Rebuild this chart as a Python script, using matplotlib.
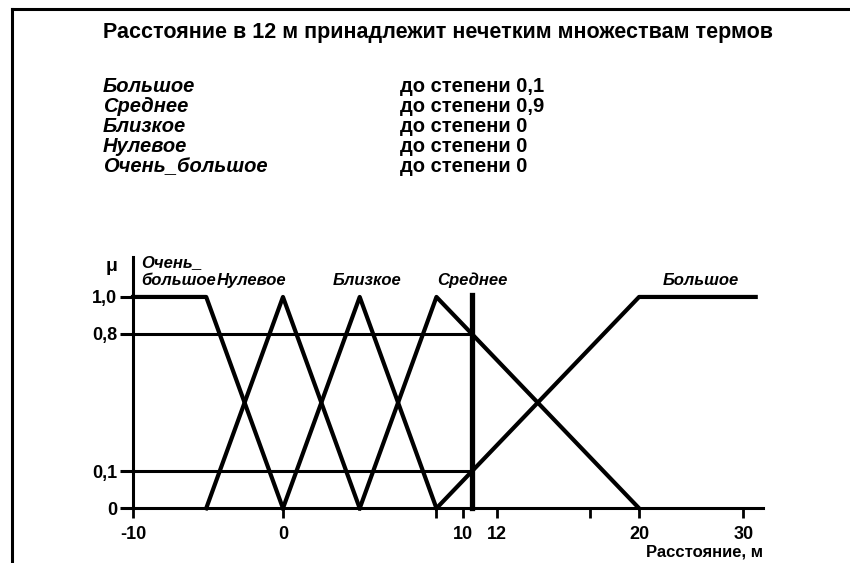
import numpy as np
import matplotlib
matplotlib.use('Agg')
import matplotlib.pyplot as plt
from matplotlib.lines import Line2D

plt.rcParams['font.family'] = ['Liberation Sans', 'DejaVu Sans']
plt.rcParams['font.weight'] = 'bold'
plt.rcParams['axes.labelweight'] = 'bold'

title = 'Расстояние в 12 м принадлежит нечетким множествам термов'

# membership degrees of 12 m, as printed in the table
terms = ['Большое', 'Среднее', 'Близкое', 'Нулевое', 'Очень_большое']
degrees = ['0,1', '0,9', '0', '0', '0']

# membership functions (x in m, schematic scale as drawn)
very_big_x = [-9.77, -5, 0]
very_big_y = [1, 1, 0]
zero_x = [-5, 0, 5]
zero_y = [0, 1, 0]
near_x = [0, 5, 10]
near_y = [0, 1, 0]
mid_x = [5, 10, 23.2]
mid_y = [0, 1, 0]
big_x = [10, 23.2, 30.8]
big_y = [0, 1, 1]

curve_names = ['Очень_\nбольшое', 'Нулевое', 'Близкое', 'Среднее', 'Большое']

x_cut = 12.3  # the "12 m" line
x_min, x_max = -9.77, 31.3

x_ticks = [-9.77, 0, 11.73, 13.94, 23.2, 30]
x_tick_labels = ['-10', '0', '10', '12', '20', '30']
x_minor = [10, 20]
y_tick_labels = ['0', '0,1', '0,8', '1,0']

# where the cut line meets the two curves
mu_mid = np.interp(x_cut, mid_x, mid_y)
mu_big = np.interp(x_cut, big_x, big_y)

fig = plt.figure(figsize=(8.5, 5.63), dpi=100)
ax = fig.add_axes([133 / 850, 54.7 / 563, 630.4 / 850, 251.5 / 563])

lw = 3.0
for xs, ys in [(very_big_x, very_big_y), (zero_x, zero_y), (near_x, near_y),
               (mid_x, mid_y), (big_x, big_y)]:
    ax.plot(xs, ys, color='black', lw=lw, clip_on=False)

# cut at 12 m
ax.plot([x_cut, x_cut], [0, 1.01], color='black', lw=3.8, clip_on=False)
for mu in [mu_mid, mu_big]:
    ax.plot([x_min, x_cut], [mu, mu], color='black', lw=2.2, clip_on=False)

# curve names
label_x = [-9.25, -4.3, 3.26, 10.03, 24.76]
for name, lx in zip(curve_names, label_x):
    ax.text(lx, 1.057, name, style='italic', fontsize=12, ha='left', va='baseline')

ax.set_xlim(x_min, x_max)
ax.set_ylim(0, 1.19)
for s in ['top', 'right']:
    ax.spines[s].set_visible(False)
for s in ['left', 'bottom']:
    ax.spines[s].set_linewidth(2.2)

ax.set_xticks(x_ticks, x_tick_labels, fontsize=13)
ax.set_xticks(x_minor, minor=True)
ax.set_yticks([0, mu_big, mu_mid, 1.0], y_tick_labels, fontsize=13)
ax.tick_params(axis='x', which='both', direction='out', length=7.5, width=2.0, pad=5)
ax.tick_params(axis='y', direction='out', length=9.5, width=2.2, pad=2)

ax.set_ylabel('μ', rotation=0, fontsize=14, va='center', ha='center')
ax.yaxis.set_label_coords(-0.034, 0.96)
ax.set_xlabel('Расстояние, м', fontsize=12, ha='right', va='center')
ax.xaxis.set_label_coords(1.0, -0.174)

# header text
fig.text(103 / 850, 1 - 38.3 / 563, title, fontsize=15.5, va='baseline')
for i, (term, deg) in enumerate(zip(terms, degrees)):
    y = 1 - (91.7 + 20 * i) / 563
    fig.text(103 / 850, y, term, style='italic', fontsize=14.5, va='baseline')
    fig.text(400 / 850, y, 'до степени ' + deg, fontsize=14.5, va='baseline')

# frame of the scanned page
fig.add_artist(Line2D([12 / 850, 12 / 850], [0, 1 - 9 / 563], transform=fig.transFigure,
                      color='black', lw=2.2))
fig.add_artist(Line2D([12 / 850, 1], [1 - 9 / 563, 1 - 9 / 563], transform=fig.transFigure,
                      color='black', lw=2.2))

fig.savefig('out.png', dpi=100)
